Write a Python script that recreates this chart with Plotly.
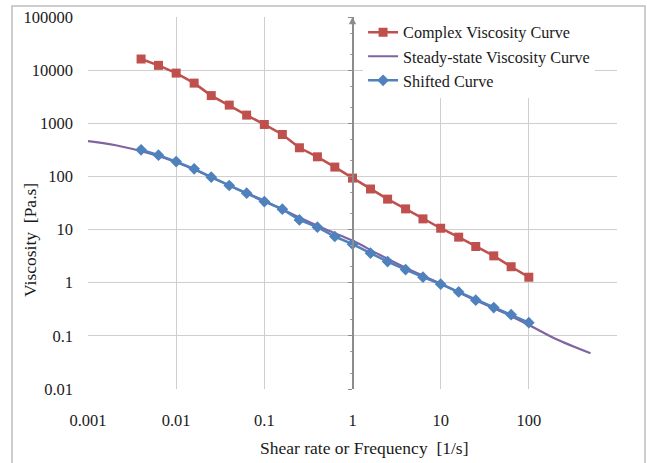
import plotly.graph_objects as go

# Complex viscosity (frequency sweep)
freq = [0.004, 0.0063, 0.01, 0.016, 0.025, 0.04, 0.063, 0.1, 0.16, 0.25, 0.4, 0.63,
        1, 1.6, 2.5, 4, 6.3, 10, 16, 25, 40, 63, 100]
complex_visc = [16200, 12300, 8800, 5700, 3320, 2200, 1425, 950, 615, 346, 234, 150,
                93, 58, 37.4, 24.5, 15.9, 10.6, 7.2, 4.8, 3.2, 2.0, 1.27]
# Shifted curve
shifted_visc = [317, 251, 190, 139, 97, 67.5, 48.5, 33.7, 24.2, 15.2, 11.1, 7.4,
                5.3, 3.6, 2.5, 1.77, 1.27, 0.94, 0.67, 0.47, 0.34, 0.25, 0.177]
# Steady-state viscosity
shear = [0.001, 0.002, 0.005, 0.01, 0.02, 0.05, 0.1, 0.2, 0.5, 1, 2, 5, 10, 20, 50, 100, 200, 500]
steady_visc = [462, 390, 270, 185, 115, 57, 35, 20, 10, 6.2, 3.4, 1.6, 0.97, 0.55, 0.28, 0.16, 0.088, 0.047]

x_ticks = [0.001, 0.01, 0.1, 1, 10, 100, 1000]
x_labels = ["0.001", "0.01", "0.1", "1", "10", "100", ""]
y_ticks = [0.01, 0.1, 1, 10, 100, 1000, 10000, 100000]
y_labels = ["0.01", "0.1", "1", "10", "100", "1000", "10000", "100000"]

RED = "#C0504D"
PURPLE = "#8064A2"
BLUE = "#4F81BD"
FONT = "Times New Roman, Liberation Serif, serif"

fig = go.Figure()
fig.add_trace(go.Scatter(x=freq, y=complex_visc, name="Complex Viscosity Curve",
                         mode="lines+markers", line=dict(color=RED, width=2.5),
                         marker=dict(symbol="square", size=9, color=RED)))
fig.add_trace(go.Scatter(x=shear, y=steady_visc, name="Steady-state Viscosity Curve",
                         mode="lines", line=dict(color=PURPLE, width=2.2, shape="spline")))
fig.add_trace(go.Scatter(x=freq, y=shifted_visc, name="Shifted Curve",
                         mode="lines+markers", line=dict(color=BLUE, width=2.5),
                         marker=dict(symbol="diamond", size=9, color=BLUE)))
# invisible trace carrying the crossing axis at x = 1
fig.add_trace(go.Scatter(x=shear, y=steady_visc, yaxis="y2", mode="lines",
                         line=dict(width=0), opacity=0, showlegend=False, hoverinfo="skip"))

fig.update_layout(
    width=647, height=463,
    margin=dict(l=88, r=30, t=17, b=74),
    paper_bgcolor="white", plot_bgcolor="white",
    font=dict(family=FONT, size=16.5, color="#1a1a1a"),
    showlegend=True,
    legend=dict(x=0.52, y=1.005, xanchor="left", yanchor="top",
                bgcolor="white", borderwidth=0, font=dict(size=16.2, family=FONT),
                tracegroupgap=0, itemwidth=30),
    xaxis=dict(type="log", range=[-3, 3], tickvals=x_ticks, ticktext=x_labels,
               showgrid=True, gridcolor="#cfcfcf", gridwidth=1, zeroline=False,
               showline=False, ticks="", ticklabelstandoff=19, automargin=False),
    yaxis=dict(type="log", range=[-2, 5], tickvals=y_ticks, ticktext=y_labels,
               showgrid=True, gridcolor="#cfcfcf", gridwidth=1, zeroline=False,
               showline=False, ticks="", ticklabelstandoff=14, automargin=False),
    yaxis2=dict(type="log", range=[-2, 5], overlaying="y", anchor="free", position=0.5,
                side="left", showgrid=False, zeroline=False, showticklabels=False,
                showline=True, linecolor="#8c8c8c", linewidth=1.5, automargin=False,
                ticks="outside", ticklen=4, tickcolor="#8c8c8c", tickvals=y_ticks,
                minor=dict(ticks="outside", ticklen=2, tickcolor="#a0a0a0", showgrid=False)),
)

# axis titles
fig.add_annotation(text="Shear rate or Frequency  [1/s]", xref="paper", yref="paper",
                   x=276 / 529, y=-59 / 372, xanchor="center", yanchor="middle",
                   showarrow=False, font=dict(size=17.5, family=FONT))
fig.add_annotation(text="Viscosity  [Pa.s]", xref="paper", yref="paper",
                   x=-58 / 529, y=149 / 372, xanchor="center", yanchor="middle",
                   textangle=-90, showarrow=False, font=dict(size=17.5, family=FONT))

# grey frame around the whole chart
fig.add_shape(type="rect", xref="paper", yref="paper",
              x0=-76 / 529, x1=557 / 529, y0=-200 / 372, y1=1 + 11 / 372,
              line=dict(color="#bdbdbd", width=1.5), fillcolor="rgba(0,0,0,0)", layer="above")

# arrow head on the crossing axis
fig.add_annotation(x=0, y=5, xref="x", yref="y", ax=0, ay=8, showarrow=True,
                   arrowhead=2, arrowsize=1.2, arrowwidth=1.2, arrowcolor="#8c8c8c", text="")

fig.write_html("out.html", config={"displayModeBar": False},
               post_script="document.body.style.margin='0';")
